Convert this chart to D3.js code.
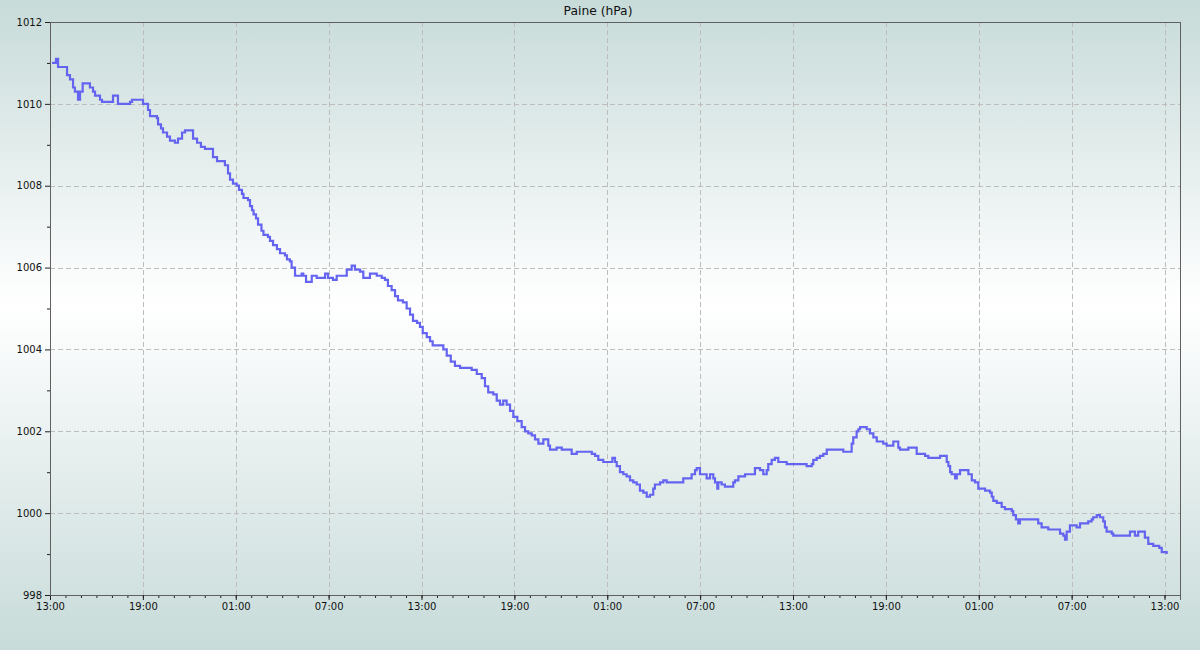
<!DOCTYPE html>
<html>
<head>
<meta charset="utf-8">
<script src="https://cdn.jsdelivr.net/npm/d3@7"></script>
<style>
  html, body { margin: 0; padding: 0; background: #c7dbd9; }
  svg { display: block; }
  text { font-family: "DejaVu Sans", sans-serif; }
</style>
</head>
<body>
<svg id="chart" width="1200" height="650"></svg>
<script>
// ---- data ----
const title = "Paine (hPa)";
// hours since the first 13:00 mark
const hours = [0.13,0.39,0.52,0.97,1.10,1.29,1.49,1.61,1.81,1.94,2.11,2.45,2.58,2.78,2.91,3.23,3.36,4.01,4.07,4.26,4.39,4.97,5.17,5.30,5.88,6.01,6.27,6.33,6.46,6.91,6.98,7.17,7.30,7.56,7.75,8.07,8.27,8.53,8.72,9.17,9.24,9.50,9.75,10.01,10.34,10.53,10.79,11.24,11.30,11.50,11.63,11.82,
12.06,12.21,12.40,12.50,12.79,12.92,13.05,13.15,13.31,13.44,13.66,13.79,14.08,14.21,14.41,14.66,14.86,15.18,15.31,15.50,15.61,15.83,16.26,16.36,16.54,16.73,16.91,17.23,17.66,17.77,17.96,18.28,18.52,18.84,19.17,19.49,19.70,20.03,20.24,20.67,21.11,21.43,21.64,21.83,22.07,22.29,22.48,22.80,23.04,23.26,23.45,23.71,23.90,
24.08,24.34,24.55,24.72,25.30,25.41,25.63,25.89,26.16,26.49,27.00,27.24,27.57,27.89,28.10,28.31,28.64,28.86,29.07,29.28,29.50,29.72,29.93,30.19,30.47,30.69,30.90,31.12,31.33,31.55,31.76,31.87,32.09,32.19,32.30,32.62,32.73,33.06,33.53,33.70,33.92,34.03,34.67,35.00,35.21,35.42,35.74,
36.18,36.33,36.50,36.61,36.82,37.04,37.25,37.47,37.68,37.90,38.11,38.33,38.55,38.76,38.97,39.08,39.41,39.62,39.84,40.70,40.91,41.34,41.45,41.67,41.78,41.99,42.20,42.42,42.64,42.85,42.96,43.11,43.17,43.39,43.60,43.93,44.14,44.25,44.47,44.90,45.22,45.54,45.87,46.08,46.30,46.40,46.62,46.83,47.05,47.59,
48.13,48.66,48.88,49.21,49.31,49.53,49.74,49.96,50.18,51.25,51.68,51.79,51.89,52.11,52.22,52.33,52.65,52.76,52.97,53.19,53.41,53.83,54.05,54.48,54.80,54.91,55.23,55.45,55.88,55.99,56.31,56.53,56.74,57.29,57.50,57.72,57.93,58.04,58.15,58.25,58.47,58.58,58.79,59.22,59.33,59.55,59.76,59.97,
60.41,60.73,60.84,60.94,61.16,61.37,61.48,61.69,62.02,62.13,62.23,62.40,62.55,62.66,62.98,63.42,63.63,63.84,64.06,64.49,65.03,65.25,65.46,65.57,65.68,65.89,66.21,66.32,66.54,66.97,67.07,67.29,67.39,67.62,67.83,68.04,68.15,68.26,68.59,68.69,69.12,69.44,69.77,70.09,70.30,70.52,70.73,70.95,71.27,71.49,71.66,71.82,72.14];
const pressure = [1011.0,1011.1,1010.9,1010.9,1010.7,1010.6,1010.4,1010.3,1010.1,1010.3,1010.5,1010.5,1010.4,1010.3,1010.2,1010.1,1010.05,1010.05,1010.2,1010.2,1010.0,1010.0,1010.05,1010.1,1010.1,1010.0,1010.0,1009.85,1009.7,1009.65,1009.5,1009.4,1009.3,1009.2,1009.1,1009.05,1009.15,1009.3,1009.35,1009.35,1009.15,1009.05,1008.95,1008.9,1008.9,1008.7,1008.6,1008.6,1008.5,1008.3,1008.15,1008.05,
1008.0,1007.9,1007.8,1007.7,1007.65,1007.5,1007.4,1007.3,1007.2,1007.05,1006.9,1006.8,1006.75,1006.65,1006.55,1006.45,1006.35,1006.3,1006.2,1006.15,1006.0,1005.8,1005.85,1005.8,1005.65,1005.65,1005.8,1005.75,1005.75,1005.85,1005.75,1005.7,1005.8,1005.8,1005.95,1006.05,1005.95,1005.9,1005.75,1005.85,1005.8,1005.75,1005.7,1005.55,1005.45,1005.3,1005.2,1005.15,1005.0,1004.85,1004.7,1004.65,1004.55,
1004.4,1004.3,1004.2,1004.1,1004.1,1004.0,1003.85,1003.7,1003.6,1003.55,1003.55,1003.5,1003.4,1003.3,1003.1,1002.95,1002.9,1002.75,1002.65,1002.75,1002.65,1002.5,1002.35,1002.25,1002.1,1002.0,1001.95,1001.9,1001.8,1001.7,1001.7,1001.8,1001.8,1001.65,1001.55,1001.55,1001.6,1001.55,1001.55,1001.45,1001.45,1001.5,1001.5,1001.45,1001.4,1001.3,1001.25,
1001.25,1001.35,1001.25,1001.15,1001.0,1000.95,1000.9,1000.8,1000.75,1000.7,1000.55,1000.5,1000.4,1000.45,1000.6,1000.7,1000.75,1000.8,1000.75,1000.75,1000.85,1000.85,1000.95,1001.05,1001.1,1000.95,1000.95,1000.85,1000.95,1000.85,1000.75,1000.6,1000.75,1000.7,1000.65,1000.65,1000.75,1000.8,1000.9,1000.95,1000.95,1001.1,1001.05,1000.95,1001.05,1001.2,1001.3,1001.35,1001.25,1001.2,
1001.2,1001.2,1001.15,1001.2,1001.3,1001.35,1001.4,1001.45,1001.55,1001.5,1001.5,1001.7,1001.85,1002.0,1002.05,1002.1,1002.1,1002.05,1001.95,1001.85,1001.75,1001.7,1001.65,1001.75,1001.6,1001.55,1001.55,1001.6,1001.6,1001.45,1001.45,1001.4,1001.35,1001.35,1001.4,1001.4,1001.25,1001.15,1001.0,1000.95,1000.85,1000.95,1001.05,1001.05,1000.95,1000.8,1000.75,1000.6,
1000.55,1000.5,1000.4,1000.3,1000.25,1000.25,1000.15,1000.1,1000.1,1000.05,999.95,999.85,999.75,999.85,999.85,999.85,999.85,999.75,999.65,999.6,999.6,999.5,999.45,999.35,999.55,999.7,999.7,999.65,999.75,999.75,999.8,999.85,999.9,999.95,999.9,999.8,999.65,999.55,999.5,999.45,999.45,999.45,999.55,999.45,999.55,999.55,999.4,999.25,999.2,999.2,999.15,999.05,999.0];

const xMajorTicks = [0,6,12,18,24,30,36,42,48,54,60,66,72];
const xTickLabels = ["13:00","19:00","01:00","07:00","13:00","19:00","01:00","07:00","13:00","19:00","01:00","07:00","13:00"];
const yMajorTicks = [998,1000,1002,1004,1006,1008,1010,1012];
const yMinorTicks = [999,1001,1003,1005,1007,1009,1011];
const xDomain = [0, 73];
const yDomain = [998, 1012];

// ---- layout ----
const W = 1200, H = 650;
const m = {left: 50, right: 20, top: 22, bottom: 55};
const svg = d3.select("#chart");

const defs = svg.append("defs");
const grad = defs.append("linearGradient").attr("id", "bg").attr("x1", 0).attr("y1", 0).attr("x2", 0).attr("y2", 1);
grad.append("stop").attr("offset", "0%").attr("stop-color", "#c7dbd9");
grad.append("stop").attr("offset", "47%").attr("stop-color", "#ffffff");
grad.append("stop").attr("offset", "100%").attr("stop-color", "#c7dbd9");
svg.append("rect").attr("width", W).attr("height", H).attr("fill", "url(#bg)");

const x = d3.scaleLinear().domain(xDomain).range([m.left, W - m.right]);
const y = d3.scaleLinear().domain(yDomain).range([H - m.bottom, m.top]);

// grid
const grid = svg.append("g").attr("stroke", "#bdbdbd").attr("stroke-dasharray", "5,3").attr("stroke-width", 1);
grid.selectAll("line.gx").data(xMajorTicks.filter(d => d > xDomain[0])).join("line")
  .attr("x1", d => Math.round(x(d)) + 0.5).attr("x2", d => Math.round(x(d)) + 0.5)
  .attr("y1", y(yDomain[0])).attr("y2", y(yDomain[1]));
grid.selectAll("line.gy").data(yMajorTicks.filter(d => d > yDomain[0] && d < yDomain[1])).join("line")
  .attr("y1", d => Math.round(y(d)) + 0.5).attr("y2", d => Math.round(y(d)) + 0.5)
  .attr("x1", x(xDomain[0])).attr("x2", x(xDomain[1]));

// frame
svg.append("rect")
  .attr("x", x(xDomain[0]) + 0.5).attr("y", y(yDomain[1]) + 0.5)
  .attr("width", x(xDomain[1]) - x(xDomain[0])).attr("height", y(yDomain[0]) - y(yDomain[1]))
  .attr("fill", "none").attr("stroke", "#606060").attr("stroke-width", 1);

// line
const data = hours.map((h, i) => ({h, p: pressure[i]}));
const line = d3.line().x(d => x(d.h)).y(d => y(d.p)).curve(d3.curveStepAfter);
svg.append("path").datum(data).attr("d", line)
  .attr("fill", "none").attr("stroke", "#6464f0").attr("stroke-width", 2.2).attr("stroke-linejoin", "miter");

// axes
const xAxisMinor = d3.axisBottom(x).tickValues(d3.range(xDomain[0], xDomain[1] + 1, 1)).tickSize(3).tickFormat("");
const xAxis = d3.axisBottom(x).tickValues(xMajorTicks).tickSize(5).tickPadding(3)
  .tickFormat((d, i) => xTickLabels[i]);
const gxm = svg.append("g").attr("transform", `translate(0,${y(yDomain[0])})`).call(xAxisMinor);
const gx = svg.append("g").attr("transform", `translate(0,${y(yDomain[0])})`).call(xAxis);

const yAxisMinor = d3.axisLeft(y).tickValues(yMinorTicks).tickSize(3).tickFormat("");
const yAxis = d3.axisLeft(y).tickValues(yMajorTicks).tickSize(5).tickPadding(3).tickFormat(d3.format("d"));
const gym = svg.append("g").attr("transform", `translate(${x(xDomain[0])},0)`).call(yAxisMinor);
const gy = svg.append("g").attr("transform", `translate(${x(xDomain[0])},0)`).call(yAxis);

[gx, gxm, gy, gym].forEach(g => {
  g.select(".domain").attr("stroke", "#606060");
  g.selectAll(".tick line").attr("stroke", "#202020");
  g.selectAll("text").attr("font-family", "DejaVu Sans, sans-serif").attr("font-size", 10).attr("fill", "#111");
});

// title
svg.append("text").attr("x", W / 2 - 2).attr("y", 15)
  .attr("text-anchor", "middle").attr("font-size", 12.3).attr("fill", "#111").text(title);
</script>
</body>
</html>
